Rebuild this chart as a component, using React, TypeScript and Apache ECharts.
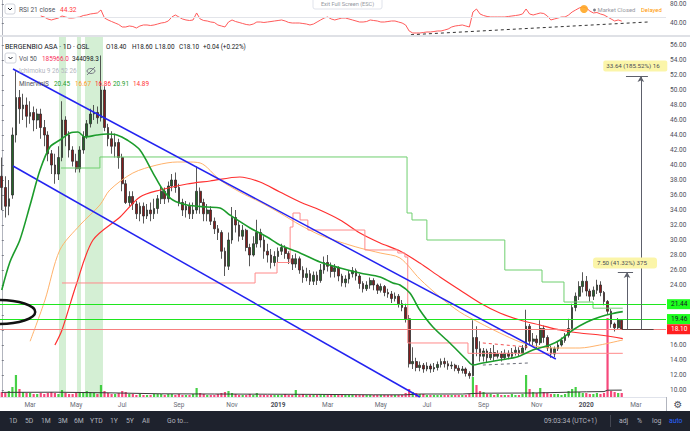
import React, { useEffect, useRef } from "react";
import * as echarts from "echarts";

// ---------- DATA ----------
const SLOT_COUNT = 188; // each slot = 3 trading days
const categories = Array.from({ length: SLOT_COUNT }, (_, i) => String(i));

const monthTickSlots = [8, 21, 34, 50, 65, 78, 92, 107, 120, 136, 151, 165, 179];
const monthTickLabels = ["Mar", "May", "Jul", "Sep", "Nov", "2019", "Mar", "May", "Jul", "Sep", "Nov", "2020", "Mar"];

// 20.00 and 22.00 sit behind the price tags in the reference
const priceTicks = [10, 12, 14, 16, 18, 20, 22, 24, 26, 28, 30, 32, 34, 36, 38, 40, 42, 44, 46, 48, 50, 52, 54, 56];
const priceLabels = [10, 12, 14, 16, 24, 26, 28, 30, 32, 34, 36, 38, 40, 42, 44, 46, 48, 50, 52, 54, 56];
const rsiTicks = [40, 80];

// [open, close, low, high]
const candles = [
  [38.5, 37, 34, 41], [37, 34.5, 33, 38.5], [34.5, 35.5, 33.3, 38], [36, 44, 35.5, 45], [44, 49, 43, 52.5],
  [49, 47.5, 45.5, 50], [47.5, 48, 46, 49.5], [48, 46.5, 45, 49], [46.5, 47, 45.5, 48.5], [47, 46, 44.5, 47.8],
  [46, 46.8, 44.8, 47.5], [46.8, 45, 43.5, 47.5], [45, 44, 42.5, 46], [44, 41.5, 40.5, 44.5], [41.5, 40, 38.8, 42],
  [40, 38.8, 37.5, 41.5], [38.8, 41, 38, 42.5], [41, 46, 40.5, 48.5], [46, 44, 42.5, 46.5], [44, 42, 41, 44.5],
  [42, 40.5, 39.8, 42.5], [40.5, 39.5, 39, 41.5], [39.5, 42, 39, 42.5], [42, 43.8, 41.5, 44.5], [43.8, 45.5, 43.5, 46],
  [45.5, 46.8, 45, 47.5], [46.8, 47, 46, 48], [47, 46.3, 45.5, 47.8], [46.3, 50, 45.8, 54.6], [50, 45, 44.5, 50.5],
  [45, 43.5, 42.5, 45.5], [43.5, 42.5, 41.5, 44.5], [42.5, 43, 41, 44.2], [43, 41, 39.5, 43.5], [41, 37.5, 36.5, 41.5],
  [37.5, 35, 34.8, 38], [35, 35.8, 34.5, 36.5], [35.8, 34.8, 34, 36.5], [34.8, 33.5, 32.8, 35.2], [33.5, 34.5, 32.5, 35],
  [34.5, 33.2, 32.2, 35], [33.2, 34, 32.8, 34.8], [34, 33.5, 32.5, 35], [33.5, 34.2, 32.8, 35.5], [34.2, 35.5, 33.5, 36],
  [35.5, 36.5, 34.8, 37.2], [36.5, 35.5, 34.8, 37], [35.5, 37.2, 35, 37.8], [37.2, 38, 36.5, 38.8], [38, 37, 36.3, 39],
  [37, 35, 34.5, 37.5], [35, 34, 33.2, 35.5], [34, 34.5, 33, 35.2], [34.5, 33.5, 32.8, 35], [33.5, 34, 32.8, 35],
  [34, 36.5, 33.5, 39.8], [36.5, 35, 33.5, 37], [35, 33.5, 32.5, 35.5], [33.5, 34, 32.5, 34.8], [34, 32.5, 32, 34.5],
  [32.5, 31.5, 30.8, 33], [31.5, 31, 30, 32], [31, 28.5, 27.5, 31.3], [28.5, 26.5, 25.2, 29], [26.5, 30, 26, 31],
  [30, 33, 29.5, 34.4], [33, 32, 31, 34], [32, 30.5, 29.8, 32.5], [30.5, 31.3, 30, 32], [31.3, 29, 28.5, 31.5],
  [29, 28, 26.5, 29.5], [28, 29.5, 27.8, 30.5], [29.5, 31, 29, 32.7], [31, 30, 29, 31.5], [30, 28.5, 27.5, 30.5],
  [28.5, 28, 27, 29.5], [28, 27, 26.2, 28.8], [27, 27.8, 26.5, 28.5], [27.8, 28.5, 27, 29], [28.5, 29, 28, 29.5],
  [29, 28.2, 27.5, 29.3], [28.2, 27.5, 26.8, 28.5], [27.5, 26.8, 26, 28], [26.8, 27.5, 26.3, 28.2], [27.5, 26, 25.5, 27.8],
  [26, 25, 24.3, 26.5], [25, 25.5, 24.5, 26.3], [25.5, 24.5, 24, 26], [24.5, 25.3, 24, 25.8], [25.3, 24.6, 24, 25.8],
  [24.6, 26, 24.3, 26.8], [26, 27, 25.5, 27.8], [27, 26.5, 25.8, 28], [26.5, 25.8, 25, 27], [25.8, 26.3, 25, 26.8],
  [26.3, 25.2, 24.5, 26.5], [25.2, 24.3, 23.8, 25.5], [24.3, 24.8, 23.7, 25.3], [24.8, 25.5, 24.2, 26], [25.5, 25.9, 25, 26.4],
  [25.9, 25.2, 24.6, 26.2], [25.2, 24.2, 23.5, 25.5], [24.2, 23.5, 23, 24.5], [23.5, 24, 23.2, 24.5], [24, 24.6, 23.5, 25],
  [24.6, 24, 23.3, 24.9], [24, 23.3, 22.8, 24.2], [23.3, 23.8, 23, 24.2], [23.8, 23, 22.5, 24], [23, 22.8, 22.3, 23.5],
  [22.8, 22.2, 21.6, 23.2], [22.2, 22.5, 21.8, 23], [22.5, 21.5, 21, 22.8], [21.5, 21, 20.5, 22], [21, 19.5, 19, 21.5],
  [19.5, 13.5, 13, 20], [13.5, 13.8, 12.8, 15.7], [13.8, 13, 12.5, 14.3], [13, 13.3, 12.5, 13.8], [13.3, 12.8, 12.3, 13.6],
  [12.8, 13.2, 12.5, 13.7], [13.2, 12.8, 12.3, 13.5], [12.8, 13, 12.4, 13.6], [13, 13.4, 12.6, 13.8], [13.4, 13.8, 13, 14.2],
  [13.8, 13.5, 13, 14.3], [13.5, 13.2, 12.7, 13.9], [13.2, 13.3, 12.8, 13.8], [13.3, 12.9, 12.5, 13.5], [12.9, 12.6, 12.2, 13.3],
  [12.6, 12.8, 12.2, 13.2], [12.8, 12.2, 11.8, 13], [12.2, 11.9, 11.5, 12.5], [11.9, 17, 11.8, 19.3], [17, 15.5, 14.5, 18.5],
  [15.5, 14.5, 13.8, 16.5], [14.5, 15.2, 13.8, 15.6], [15.2, 14.3, 13.7, 15.5], [14.3, 15, 14, 15.6], [15, 14.5, 13.9, 16],
  [14.5, 14.8, 14.2, 15.3], [14.8, 14.3, 13.8, 15.2], [14.3, 14.9, 14, 15.4], [14.9, 14.5, 14.1, 15.3], [14.5, 15, 14.2, 15.6],
  [15, 15.3, 14.6, 15.8], [15.3, 14.9, 14.4, 15.7], [14.9, 15.6, 14.7, 16], [15.6, 18.5, 15.3, 20.7], [18.5, 16.5, 16, 18.8],
  [16.5, 16.8, 15.8, 17.6], [16.8, 16.3, 15.5, 17.3], [16.3, 18.2, 16, 19.3], [18.2, 17, 16.3, 18.6], [17, 15.6, 15.2, 17.3],
  [15.6, 14.8, 14.3, 15.9], [14.8, 15.5, 14.4, 15.8], [15.5, 16, 15.2, 16.5], [16, 16.6, 15.8, 17], [16.6, 17.3, 16.3, 17.6],
  [17.3, 18.2, 17, 19.5], [18.2, 21, 18, 21.5], [21, 22.5, 20.5, 23], [22.5, 23.8, 22, 24.5], [23.8, 24.5, 23, 25.7],
  [24.5, 23.2, 22.5, 25.2], [23.2, 22.5, 21.8, 23.5], [22.5, 23.3, 22, 23.8], [23.3, 24, 22.8, 24.7], [24, 23, 22.5, 24.5],
  [23, 21.8, 21.3, 23.2], [21.8, 20.5, 20, 22], [20.5, 18.8, 18.3, 20.8], [18.8, 18.3, 17.8, 19], [18.3, 19.3, 18, 19.6],
  [19.3, 18.1, 18, 19.4],
];

// volume, thousands of shares
const volumes = [
  250, 200, 300, 500, 1100, 400, 250, 200, 200, 150,
  150, 200, 150, 200, 250, 200, 150, 350, 200, 150,
  150, 200, 250, 200, 300, 250, 200, 150, 600, 300,
  200, 150, 150, 200, 300, 250, 150, 150, 100, 150,
  100, 100, 100, 150, 150, 150, 100, 150, 150, 100,
  150, 100, 100, 100, 150, 450, 200, 150, 100, 100,
  100, 150, 200, 250, 300, 200, 150, 100, 100, 100,
  150, 100, 200, 100, 100, 100, 100, 100, 100, 100,
  150, 100, 100, 350, 100, 150, 100, 100, 100, 100,
  150, 100, 100, 150, 100, 100, 100, 100, 100, 100,
  100, 100, 100, 100, 100, 100, 100, 100, 100, 100,
  100, 100, 100, 100, 200, 400, 250, 200, 150, 150,
  100, 100, 100, 100, 100, 100, 100, 100, 100, 100,
  100, 100, 150, 1000, 600, 300, 250, 150, 150, 100,
  150, 100, 100, 100, 150, 100, 100, 150, 1100, 400,
  250, 200, 450, 250, 200, 150, 150, 150, 100, 150,
  300, 400, 500, 250, 200, 200, 150, 150, 200, 150,
  200, 3950, 300, 250, 200, 200,
];

const volumeMA = [
  [0, 230], [15, 240], [30, 210], [45, 160], [60, 150], [75, 140], [90, 130], [105, 110], [114, 110],
  [118, 150], [130, 150], [135, 190], [150, 200], [165, 260], [170, 270], [171, 340], [175, 344],
];

const rsi21 = [
  null, null, null, null, null, null, null, null, null, null, null,
  55.0, 52.9, 48.8, 46.7, 48.8, 50.8, 55.0, 52.9, 50.8, 50.8,
  51.9, 52.9, 56.0, 57.1, 59.2, 60.2, 61.3, 67.5, 50.8, 46.7,
  43.5, 40.4, 37.3, 32.1, 32.1, 34.2, 33.1, 30.0, 34.2, 36.3,
  36.3, 35.2, 36.3, 38.3, 40.4, 41.5, 44.6, 52.9, 57.1, 52.9,
  48.8, 46.7, 45.6, 46.7, 61.3, 48.8, 45.6, 44.6, 42.5, 41.5,
  36.3, 34.2, 32.1, 42.5, 46.7, 43.5, 41.5, 39.4, 37.3, 36.3,
  38.3, 42.5, 42.5, 41.5, 42.5, 43.5, 44.6, 45.6, 46.7, 44.6,
  41.5, 40.4, 40.4, 40.4, 39.4, 38.3, 36.3, 38.3, 42.5, 46.7,
  50.8, 52.9, 48.8, 46.7, 48.8, 50.8, 50.8, 48.8, 46.7, 44.6,
  42.5, 42.5, 43.5, 46.7, 45.6, 44.6, 42.5, 42.5, 43.5, 44.6,
  44.6, 42.5, 40.4, 36.3, 23.8, 19.6, 19.6, 19.6, 20.6, 21.7,
  21.7, 22.7, 23.8, 23.8, 25.8, 27.9, 32.1, 34.2, 35.2, 36.3,
  34.2, 32.1, 63.3, 69.6, 59.2, 56.0, 54.0, 52.9, 52.9, 52.9,
  52.9, 52.9, 54.0, 55.0, 56.0, 57.1, 59.2, 69.6, 59.2, 57.1,
  59.2, 61.3, 60.2, 55.0, 46.7, 48.8, 50.8, 52.9, 52.9, 57.1,
  63.3, 67.5, 71.7, 73.8, 71.7, 65.4, 61.3, 62.3, 59.2, 57.1,
  52.9, 48.8, 44.6, 46.7, 44.32,
];

// [slot, price]
const maGreen = [
  [0, 23.33], [2.3, 27.07], [5.1, 30], [8, 34.67], [10.8, 39.33], [13.6, 42.4], [16.4, 43.33], [19.3, 44.27],
  [21.5, 44.4], [23.5, 43.73], [26.9, 44], [29.7, 44.13], [32.5, 44], [35.4, 43.33], [39, 42], [42.7, 38.93],
  [45.5, 36.67], [48.3, 35.33], [52.3, 34.67], [57.9, 34.4], [61.6, 34.27], [64.4, 33.33], [70.1, 31.6],
  [74.9, 30.4], [78.5, 29.33], [84.2, 28.27], [89.8, 27.07], [95.5, 26.27], [101.1, 25.6], [106.8, 25.07],
  [110.4, 24.27], [112.4, 24], [115.2, 22.93], [118, 20.67], [121.7, 18.4], [126.5, 16.27], [131.3, 14],
  [133, 13.33], [135.8, 13.6], [140.6, 14], [145.4, 14.4], [149.9, 15.33], [154.7, 16], [157.6, 16.67],
  [161.2, 18], [165.2, 19.07], [168.8, 19.73], [172.5, 20.2], [175.3, 20.45],
];
const maOrange = [
  [8, 16.5], [12.2, 22], [16.4, 28.67], [22.1, 32], [27.7, 34.67], [30.5, 36.67], [37, 38.93], [43.8, 40],
  [49.5, 40.4], [52.3, 40.4], [56, 40.27], [61.6, 38], [67.2, 36.4], [72.9, 35.07], [78.5, 33.6], [84.2, 32],
  [89.8, 30.67], [95.5, 29.73], [101.1, 28.93], [106.8, 28.27], [112.4, 27.6], [118, 24.8], [123.7, 22.4],
  [129.3, 20.4], [135, 18.93], [140.6, 17.6], [146.3, 16.4], [151.9, 15.73], [157.6, 15.6], [163.2, 15.6],
  [168.8, 16], [175.3, 16.67],
];
const maRed = [
  [15, 16], [17, 18], [21, 24], [25.75, 30], [33.4, 33.07], [39, 35.73], [44.7, 36.67], [52.3, 37.47],
  [58.8, 37.87], [67.2, 38.4], [72.9, 37.73], [78.5, 36.4], [84.2, 35.07], [89.8, 34], [95.5, 32.67],
  [101.1, 30.93], [106.8, 29.6], [112.4, 28.53], [118, 26.93], [123.7, 25.07], [129.3, 23.33], [135, 21.6],
  [140.6, 20.27], [146.3, 19.33], [151.9, 18.67], [157.6, 18], [163.2, 17.6], [168.8, 17.33], [175.3, 16.86],
];
const stepHigh = [
  [16.7, 39.6], [27.7, 41.07], [114.4, 33.6], [115.8, 32.67], [120, 30], [142, 26], [152.5, 24.4],
  [158.7, 21.73], [166.9, 20.91], [175.3, 20.91],
];
const stepLow = [
  [17, 24.27], [71.5, 25.6], [77.7, 27], [81.4, 31.73], [82.2, 33.6], [84.2, 32.67], [86.4, 31.33],
  [102.5, 28.67], [111.8, 28.27], [113.8, 27.73], [114.6, 16.27], [131.6, 14.89], [175.3, 14.89],
];

const highlightBands = [[16.15, 18.13], [21.23, 22.36], [23.49, 28.57]];
const channelUpper = [[3.17, 52.8], [156.4, 14.13]];
const channelLower = [[3.17, 39.87], [118, 9.07]];
const dashRed = [[135.8, 16.27], [148.5, 15.73]];
const dashGray = [[135.8, 13.33], [148.5, 13.6]];
const rsiTrend = [[115.5, 16], [182.4, 42.5]];
const rsiMidLevel = 53;

const levelGreenA = 21.44;
const levelGreenB = 19.46;
const lastClose = 18.1;

const measureBig = { slot: 180.4, from: 18.1, to: 51.87, capFrom: 176.2, capTo: 182.4, label: "33.64 (185.52%) 16" };
const measureSmall = { slot: 176.5, from: 18.1, to: 25.73, capFrom: 173.9, capTo: 178.2, label: "7.50 (41.32%) 375" };
const measureBase = [[175, 18.1], [184, 18.1]];
const ellipseCenter = [-1, 20.4];

const legendTitle = "BERGENBIO ASA · 1D · OSL";
const legendOHLC = ["O18.40", "H18.60", "L18.00", "C18.10", "+0.04 (+0.22%)"];
const volLegend = ["Vol 50", "185966.0", "344098.3"];
const minerviniValues = ["20.45", "16.67", "16.86", "20.91", "14.89"];
const rangeButtons = ["1D", "5D", "1M", "3M", "6M", "YTD", "1Y", "5Y", "All"];

// ---------- CHART ----------
const FONT = 'Roboto, "Noto Sans", sans-serif';
const tickSet = new Set(monthTickSlots);

function buildOption(): any {
  const labelMap: Record<number, string> = {};
  monthTickSlots.forEach((s, i) => (labelMap[s] = monthTickLabels[i]));
  const valueX = { type: "value", min: -0.5, max: SLOT_COUNT - 0.5, show: false };
  const drawLine = (pts: number[][], style: any) => [
    { coord: pts[0], lineStyle: style, symbol: "none" },
    { coord: pts[1], lineStyle: style, symbol: "none" },
  ];
  const gray = { color: "#5d606b", width: 1, type: "solid" };
  const tag = (txt: string, bg: string, fg: string) => ({
    show: true, position: "end", formatter: txt, backgroundColor: bg, color: fg,
    fontSize: 6.5, fontFamily: FONT, padding: [2, 4, 1, 4], distance: 1,
  });
  return {
    animation: false,
    backgroundColor: "#ffffff",
    textStyle: { fontFamily: FONT },
    grid: [
      { left: 0, right: 24, top: 0, height: 35 },
      { left: 0, right: 24, top: 37, height: 360 },
      { left: 0, right: 24, top: 297, height: 100 },
    ],
    xAxis: [
      { ...valueX, gridIndex: 0 },
      {
        type: "category", gridIndex: 1, data: categories, boundaryGap: true,
        axisLine: { show: true, lineStyle: { color: "#e0e3eb" } },
        axisTick: { show: false },
        axisLabel: {
          show: true, interval: (i: number) => tickSet.has(i),
          formatter: (v: string) => {
            const t = labelMap[Number(v)] || "";
            return /^\d{4}$/.test(t) ? "{b|" + t + "}" : t;
          },
          color: "#6a6d78", fontSize: 6.5, margin: 4, fontFamily: FONT,
          rich: { b: { fontWeight: "bold", color: "#4a4d57", fontSize: 6.5, fontFamily: FONT } },
        },
        splitLine: { show: false },
      },
      { ...valueX, gridIndex: 1 },
      { type: "category", gridIndex: 2, data: categories, show: false },
      { ...valueX, gridIndex: 2 },
    ],
    yAxis: [
      {
        type: "value", gridIndex: 0, position: "right", min: 15.42, max: 88.33,
        axisLine: { show: true, lineStyle: { color: "#b2b5be" } },
        axisTick: { show: true, length: 2, customValues: rsiTicks, lineStyle: { color: "#787b86" } },
        axisLabel: { customValues: rsiTicks, formatter: (v: number) => v.toFixed(2), color: "#4a4d57", fontSize: 6.5, margin: 4, fontFamily: FONT },
        splitLine: { show: false },
      },
      {
        type: "value", gridIndex: 1, position: "right", min: 9.0667, max: 57.0667,
        axisLine: { show: true, lineStyle: { color: "#b2b5be" } },
        axisTick: { show: true, length: 2, customValues: priceTicks, lineStyle: { color: "#787b86" } },
        axisLabel: { customValues: priceLabels, formatter: (v: number) => v.toFixed(2), color: "#4a4d57", fontSize: 6.5, margin: 4, fontFamily: FONT },
        splitLine: { show: false },
      },
      { type: "value", gridIndex: 2, min: 0, max: 5000, show: false },
    ],
    series: [
      {
        name: "drawings-back", type: "line", xAxisIndex: 2, yAxisIndex: 1, data: [], z: 1,
        markArea: {
          silent: true,
          itemStyle: { color: "rgba(120, 205, 120, 0.32)" },
          data: highlightBands.map(([a, b]) => [{ xAxis: a }, { xAxis: b }]),
        },
      },
      {
        name: "price", type: "candlestick", xAxisIndex: 1, yAxisIndex: 1, data: candles, z: 3,
        barWidth: "62%",
        itemStyle: { color: "#25652a", color0: "#851c1c", borderColor: "#2e2e2e", borderColor0: "#2e2e2e", borderWidth: 0.8 },
      },
      { name: "ma150", type: "line", xAxisIndex: 2, yAxisIndex: 1, data: maOrange, symbol: "none", smooth: 0.3, z: 4, lineStyle: { color: "#ffb26b", width: 1 } },
      { name: "ma200", type: "line", xAxisIndex: 2, yAxisIndex: 1, data: maRed, symbol: "none", smooth: 0.3, z: 4, lineStyle: { color: "#ff3030", width: 1.2 } },
      { name: "stepHigh", type: "line", xAxisIndex: 2, yAxisIndex: 1, data: stepHigh, symbol: "none", step: "end", z: 4, lineStyle: { color: "#6fcf6f", width: 1 } },
      { name: "stepLow", type: "line", xAxisIndex: 2, yAxisIndex: 1, data: stepLow, symbol: "none", step: "end", z: 4, lineStyle: { color: "#ff8a8a", width: 1 } },
      { name: "ma50", type: "line", xAxisIndex: 2, yAxisIndex: 1, data: maGreen, symbol: "none", smooth: 0.3, z: 5, lineStyle: { color: "#1c9c2c", width: 1.6 } },
      {
        name: "drawings", type: "line", xAxisIndex: 2, yAxisIndex: 1, data: [], z: 6,
        markLine: {
          silent: true, symbol: ["none", "none"], animation: false,
          label: { show: false },
          data: [
            { yAxis: lastClose, lineStyle: { color: "#f77f7f", width: 1, type: "solid" }, label: tag("18.10", "#ff1f1f", "#ffffff") },
            { yAxis: levelGreenB, lineStyle: { color: "#1fe61f", width: 1, type: "solid" }, label: tag("19.46", "#1eff1e", "#131722") },
            { yAxis: levelGreenA, lineStyle: { color: "#1fe61f", width: 1, type: "solid" }, label: tag("21.44", "#1eff1e", "#131722") },
            drawLine(channelUpper, { color: "#2323f0", width: 1.5, type: "solid" }),
            drawLine(channelLower, { color: "#2323f0", width: 1.5, type: "solid" }),
            drawLine(dashRed, { color: "#f25050", width: 1, type: [3, 3] }),
            drawLine(dashGray, { color: "#6a6d78", width: 1, type: [3, 3] }),
            drawLine(measureBase, { color: "#5d4040", width: 1.2, type: "solid" }),
            drawLine([[measureBig.capFrom, measureBig.to], [measureBig.capTo, measureBig.to]], gray),
            drawLine([[measureSmall.capFrom, measureSmall.to], [measureSmall.capTo, measureSmall.to]], gray),
            [
              { coord: [measureBig.slot, measureBig.from], lineStyle: gray, symbol: "none" },
              { coord: [measureBig.slot, measureBig.to], lineStyle: gray, symbol: "arrow", symbolSize: [5, 6] },
            ],
            [
              { coord: [measureSmall.slot, measureSmall.from], lineStyle: gray, symbol: "none" },
              { coord: [measureSmall.slot, measureSmall.to], lineStyle: gray, symbol: "arrow", symbolSize: [5, 6] },
            ],
          ],
        },
      },
      {
        name: "volume", type: "bar", xAxisIndex: 3, yAxisIndex: 2, data: volumes, barWidth: "62%", z: 2,
        itemStyle: {
          color: (p: any) => (candles[p.dataIndex][1] >= candles[p.dataIndex][0] ? "rgba(38, 200, 38, 0.85)" : "rgba(245, 40, 100, 0.85)"),
        },
      },
      { name: "volMA", type: "line", xAxisIndex: 4, yAxisIndex: 2, data: volumeMA, symbol: "none", z: 3, lineStyle: { color: "#3a3a3a", width: 1 } },
      {
        name: "rsi", type: "line", xAxisIndex: 0, yAxisIndex: 0, data: rsi21.map((v, i) => [i, v]), symbol: "none", z: 3,
        connectNulls: false, lineStyle: { color: "#ff5a5a", width: 1 },
        markLine: {
          silent: true, symbol: ["none", "none"], label: { show: false },
          data: [
            { yAxis: rsiMidLevel, lineStyle: { color: "#e3e5ea", width: 1, type: "solid" } },
            drawLine(rsiTrend, { color: "#333333", width: 1, type: [3, 3] }),
          ],
        },
      },
    ],
  };
}

function txt(x: number, y: number, text: string, fill: string, size = 6.5, extra: any = {}) {
  return {
    type: "text", x, y, z: 100, silent: true,
    style: { text, fill, fontSize: size, fontFamily: FONT, align: "left", verticalAlign: "middle", ...extra },
  };
}

export default function App() {
  const ref = useRef<HTMLDivElement>(null);
  useEffect(() => {
    const chart = echarts.init(ref.current!, null, { renderer: "svg" });
    chart.setOption(buildOption());
    const px = (s: number, v: number) => chart.convertToPixel({ xAxisIndex: 2, yAxisIndex: 1 } as any, [s, v]) as number[];
    const [b1x, b1y] = px(169.8, 53.2);
    const [b2x, b2y] = px(166.9, 26.93);
    const [ex, ey] = px(ellipseCenter[0], ellipseCenter[1]);

    const ohlcX = [106, 132, 155, 179, 203];
    const minX = [54, 75, 95, 113, 133];
    const minColors = ["#1e9e2e", "#ff9a1f", "#ff2a2a", "#1e9e2e", "#ff3535"];
    const btnX = [9, 25, 41, 58, 74, 90, 110, 126, 142];

    const graphics: any[] = [
      // pane separators
      { type: "rect", z: 90, silent: true, shape: { x: 0, y: 35, width: 690, height: 2 }, style: { fill: "#dfe1e6" } },
      { type: "line", z: 90, silent: true, shape: { x1: 666.5, y1: 397, x2: 666.5, y2: 411 }, style: { stroke: "#b2b5be", lineWidth: 1 } },
      // ellipse drawing
      { type: "ellipse", z: 95, silent: true, shape: { cx: ex, cy: ey, rx: 37, ry: 12 }, style: { fill: "none", stroke: "#111111", lineWidth: 2.5 } },
      // measure labels
      { type: "rect", z: 96, silent: true, shape: { x: b1x, y: b1y - 5.5, width: 64, height: 11, r: 2 }, style: { fill: "#fbf5a9" } },
      txt(b1x + 3, b1y, measureBig.label, "#4a4d57", 6.2),
      { type: "rect", z: 96, silent: true, shape: { x: b2x, y: b2y - 5.5, width: 64, height: 11, r: 3 }, style: { fill: "#fbf5a9" } },
      txt(b2x + 4, b2y, measureSmall.label, "#4a4d57", 6.2),
      // RSI legend
      { type: "rect", z: 100, silent: true, shape: { x: 5, y: 4, width: 10, height: 10, r: 2 }, style: { fill: "#ffffff", stroke: "#d1d4dc", lineWidth: 1 } },
      { type: "polyline", z: 101, silent: true, shape: { points: [[8, 8], [10, 10], [12, 8]] }, style: { fill: "none", stroke: "#131722", lineWidth: 1 } },
      txt(19, 9.5, "RSI 21 close", "#50535e", 6.6),
      txt(60, 9.5, "44.32", "#ff3b3b", 6.6),
      // exit full screen
      { type: "rect", z: 100, silent: true, shape: { x: 313, y: -3, width: 69, height: 12, r: 2 }, style: { fill: "#ffffff", stroke: "#e0e3eb", lineWidth: 1 } },
      txt(347.5, 3.5, "Exit Full Screen (ESC)", "#9598a1", 5.6, { align: "center" }),
      // market status
      { type: "circle", z: 100, silent: true, shape: { cx: 584, cy: 9, r: 4 }, style: { fill: "#ffa726", opacity: 0.9 } },
      { type: "circle", z: 100, silent: true, shape: { cx: 594.5, cy: 10, r: 1.4 }, style: { fill: "#787b86" } },
      txt(597.5, 10, "Market Closed", "#9598a1", 5.9),
      txt(641, 10, "Delayed", "#ff9800", 5.9),
      // main legend
      txt(5, 47, legendTitle, "#131722", 7),
      ...legendOHLC.map((t, i) => txt(ohlcX[i], 47, t, "#131722", 6.4)),
      { type: "rect", z: 100, silent: true, shape: { x: 5, y: 53, width: 11, height: 10, r: 2 }, style: { fill: "#ffffff", stroke: "#d1d4dc", lineWidth: 1 } },
      { type: "polyline", z: 101, silent: true, shape: { points: [[8.5, 57], [10.5, 59], [12.5, 57]] }, style: { fill: "none", stroke: "#131722", lineWidth: 1 } },
      txt(19, 58.5, volLegend[0], "#50535e", 6.4),
      txt(42, 58.5, volLegend[1], "#f7325d", 6.4),
      txt(72, 58.5, volLegend[2], "#131722", 6.4),
      txt(19, 71, "Ichimoku 9 26 52 26", "#b2b5be", 6.4),
      { type: "ellipse", z: 100, silent: true, shape: { cx: 91, cy: 71, rx: 4, ry: 2.5 }, style: { fill: "none", stroke: "#787b86", lineWidth: 1 } },
      { type: "line", z: 100, silent: true, shape: { x1: 87, y1: 75, x2: 95, y2: 67 }, style: { stroke: "#787b86", lineWidth: 1 } },
      txt(19, 84, "MinerviniS", "#50535e", 6.4),
      ...minerviniValues.map((t, i) => txt(minX[i], 84, t, minColors[i], 6.4)),
      // gear
      txt(678, 404, "⚙", "#50535e", 10, { align: "center", fontFamily: "DejaVu Sans" }),
      // bottom toolbar
      { type: "rect", z: 100, silent: true, shape: { x: 0, y: 411, width: 690, height: 20 }, style: { fill: "#1e222d" } },
      ...rangeButtons.map((t, i) => txt(btnX[i], 421, t, "#b2b5be", 6.8)),
      txt(167, 421, "Go to...", "#b2b5be", 6.8),
      txt(544, 421, "09:03:34 (UTC+1)", "#b2b5be", 6.8),
      { type: "line", z: 101, silent: true, shape: { x1: 610.5, y1: 415, x2: 610.5, y2: 427 }, style: { stroke: "#434651", lineWidth: 1 } },
      txt(619, 421, "adj", "#b2b5be", 6.8),
      txt(637, 421, "%", "#b2b5be", 6.8),
      txt(652, 421, "log", "#b2b5be", 6.8),
      txt(669, 421, "auto", "#2962ff", 6.8),
    ];
    chart.setOption({ graphic: graphics });
    return () => chart.dispose();
  }, []);
  return <div ref={ref} style={{ position: "fixed", left: 0, top: 0, width: 690, height: 431, background: "#fff" }} />;
}
